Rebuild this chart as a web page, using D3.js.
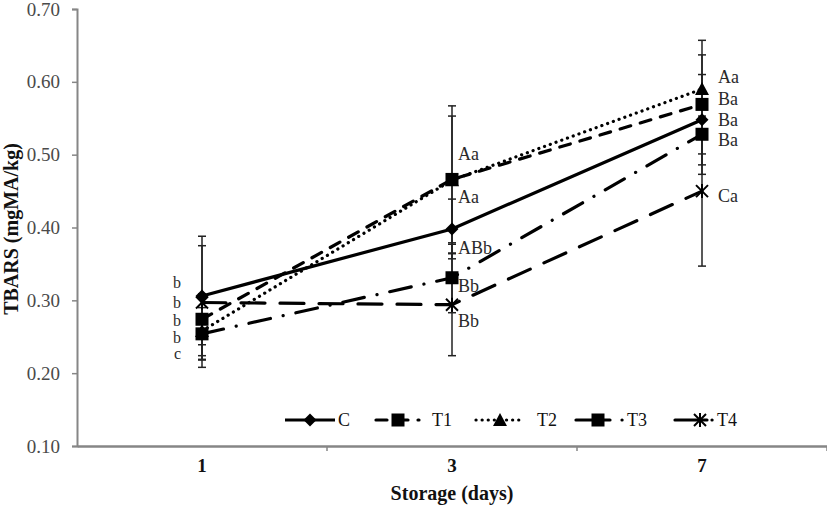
<!DOCTYPE html>
<html>
<head>
<meta charset="utf-8">
<script src="https://cdn.jsdelivr.net/npm/d3@7"></script>
<style>
  html, body { margin: 0; padding: 0; background: #fff; }
  svg { display: block; }
  text { font-family: "Liberation Serif", "Times New Roman", serif; }
</style>
</head>
<body>
<svg id="chart" width="827" height="509"></svg>
<script>
// ---------------- data ----------------
const days = ["1", "3", "7"];
const seriesNames = ["C", "T1", "T2", "T3", "T4"];
const valC  = [0.306, 0.398, 0.548];
const valT1 = [0.274, 0.466, 0.569];
const valT2 = [0.258, 0.465, 0.590];
const valT3 = [0.254, 0.331, 0.528];
const valT4 = [0.297, 0.294, 0.450];
const errC  = [0.082, 0.041, 0.062];
const errT1 = [0.035, 0.101, 0.068];
const errT2 = [0.050, 0.088, 0.067];
const errT3 = [0.036, 0.048, 0.055];
const errT4 = [0.078, 0.070, 0.103];
const lblC  = ["b", "ABb", "Ba"];
const lblT1 = ["b", "Aa", "Ba"];
const lblT2 = ["b", "Aa", "Aa"];
const lblT3 = ["c", "Bb", "Ba"];
const lblT4 = ["b", "Bb", "Ca"];
const yTicks = [0.10, 0.20, 0.30, 0.40, 0.50, 0.60, 0.70];
const xTitle = "Storage (days)";
const yTitle = "TBARS (mgMA/kg)";

// ---------------- layout / style ----------------
const svg = d3.select("#chart");
const x = d3.scaleBand().domain(days).range([77, 827]).padding(0);
const y = d3.scaleLinear().domain([0.1, 0.7]).range([446, 9]);
const cx = d => x(d) + x.bandwidth() / 2;

const series = [
  {name: "C",  v: valC,  e: errC,  l: lblC,  dash: null,            marker: "diamond"},
  {name: "T1", v: valT1, e: errT1, l: lblT1, dash: "11 10",         marker: "square"},
  {name: "T2", v: valT2, e: errT2, l: lblT2, dash: "0.1 6",         marker: "triangle"},
  {name: "T3", v: valT3, e: errT3, l: lblT3, dash: "22 13 0.1 13",  marker: "square"},
  {name: "T4", v: valT4, e: errT4, l: lblT4, dash: "24 15",         marker: "star"}
];
// label vertical offsets (px) per series per day, relative to the marker
const lblOffset = {
  C:  [-13, 19, 0],
  T1: [1, -25, -5],
  T2: [7, 17, -12],
  T3: [20, 8, 6],
  T4: [0, 16, 5]
};

// axes
const yAxis = d3.axisLeft(y).tickValues(yTicks).tickFormat(d3.format(".2f")).tickSize(5).tickPadding(12);
const gy = svg.append("g").attr("transform", "translate(77,0)").call(yAxis);
gy.select(".domain").attr("stroke", "#868686").attr("stroke-width", 2);
gy.selectAll(".tick line").attr("stroke", "#868686").attr("stroke-width", 1.5);
gy.selectAll(".tick text").attr("fill", "#4a4a4a").style("font-size", "19px").style("font-family", "Liberation Serif");

const xAxis = d3.axisBottom(x).tickSize(0).tickPadding(13);
const gx = svg.append("g").attr("transform", "translate(0,446)").call(xAxis);
gx.select(".domain").attr("stroke", "#868686").attr("stroke-width", 2.5);
gx.selectAll(".tick text").attr("fill", "#111").style("font-size", "19px").style("font-weight", "bold").style("font-family", "Liberation Serif");
// boundary tick marks
gx.selectAll(".bt").data(days).enter().append("line")
  .attr("x1", d => x(d) + x.bandwidth()).attr("x2", d => x(d) + x.bandwidth())
  .attr("y1", 0).attr("y2", 5).attr("stroke", "#868686").attr("stroke-width", 1.5);

svg.append("text").attr("x", 452).attr("y", 500).attr("text-anchor", "middle")
  .style("font-size", "20px").style("font-weight", "bold").attr("fill", "#111").text(xTitle);
svg.append("text").attr("transform", "translate(11,229) rotate(-90)").attr("text-anchor", "middle")
  .attr("dominant-baseline", "central")
  .style("font-size", "20px").style("font-weight", "bold").attr("fill", "#111").text(yTitle);

// error bars
const eg = svg.append("g");
series.forEach(s => {
  days.forEach((d, i) => {
    const xx = cx(d), y1 = y(s.v[i] + s.e[i]), y2 = y(s.v[i] - s.e[i]);
    eg.append("line").attr("x1", xx).attr("x2", xx).attr("y1", y1).attr("y2", y2)
      .attr("stroke", "#222").attr("stroke-width", 1.5);
    [y1, y2].forEach(yy => eg.append("line").attr("x1", xx - 4).attr("x2", xx + 4)
      .attr("y1", yy).attr("y2", yy).attr("stroke", "#222").attr("stroke-width", 1.5));
  });
});

// lines
const line = d3.line().x((v, i) => cx(days[i])).y(v => y(v));
series.forEach(s => {
  svg.append("path").datum(s.v).attr("d", line).attr("fill", "none")
    .attr("stroke", "#000").attr("stroke-width", 3.2)
    .attr("stroke-linecap", s.dash ? "round" : "butt")
    .attr("stroke-dasharray", s.dash);
});

// markers
function drawMarker(g, type, px, py) {
  if (type === "diamond") {
    g.append("path").attr("d", `M${px},${py-6.5}L${px+6.5},${py}L${px},${py+6.5}L${px-6.5},${py}Z`).attr("fill", "#000");
  } else if (type === "square") {
    g.append("rect").attr("x", px - 6.5).attr("y", py - 6.5).attr("width", 13).attr("height", 13).attr("fill", "#000");
  } else if (type === "triangle") {
    g.append("path").attr("d", `M${px},${py-7}L${px+7},${py+6}L${px-7},${py+6}Z`).attr("fill", "#000");
  } else if (type === "star") {
    g.append("path").attr("d", `M${px-6},${py-6}L${px+6},${py+6}M${px-6},${py+6}L${px+6},${py-6}M${px},${py-7}L${px},${py+7}`)
      .attr("stroke", "#000").attr("stroke-width", 2).attr("fill", "none");
  }
}
const mg = svg.append("g");
series.forEach(s => days.forEach((d, i) => drawMarker(mg, s.marker, cx(d), y(s.v[i]))));

// significance labels
const lg = svg.append("g").attr("fill", "#2a2a2a");
series.forEach(s => days.forEach((d, i) => {
  const first = i === 0;
  lg.append("text")
    .attr("x", first ? cx(d) - 21 : cx(d) + (i === 1 ? 6 : 16))
    .attr("y", y(s.v[i]) + lblOffset[s.name][i])
    .attr("text-anchor", first ? "end" : "start")
    .attr("dominant-baseline", "central")
    .style("font-size", first ? "16px" : "18px")
    .text(s.l[i]);
}));

// legend
const legendPos = [
  {x0: 285, x1: 335, mx: 310, tx: 338, dash: null},
  {x0: 376, x1: 419, mx: 398, tx: 432, dash: "11 10"},
  {x0: 476, x1: 523, mx: 500, tx: 537, dash: "0.1 6"},
  {x0: 576, x1: 623, mx: 598, tx: 627, dash: "34 12 0.1 20"},
  {x0: 675, x1: 713, mx: 700, tx: 717, dash: "32 5 0.1 20"}
];
const leg = svg.append("g");
series.forEach((s, i) => {
  const p = legendPos[i], ly = 420;
  leg.append("line").attr("x1", p.x0).attr("x2", p.x1).attr("y1", ly).attr("y2", ly)
    .attr("stroke", "#000").attr("stroke-width", 3.2)
    .attr("stroke-linecap", p.dash ? "round" : "butt").attr("stroke-dasharray", p.dash);
  drawMarker(leg, s.marker, p.mx, ly);
  leg.append("text").attr("x", p.tx).attr("y", ly).attr("dominant-baseline", "central")
    .style("font-size", "18px").attr("fill", "#111").text(seriesNames[i]);
});
</script>
</body>
</html>
